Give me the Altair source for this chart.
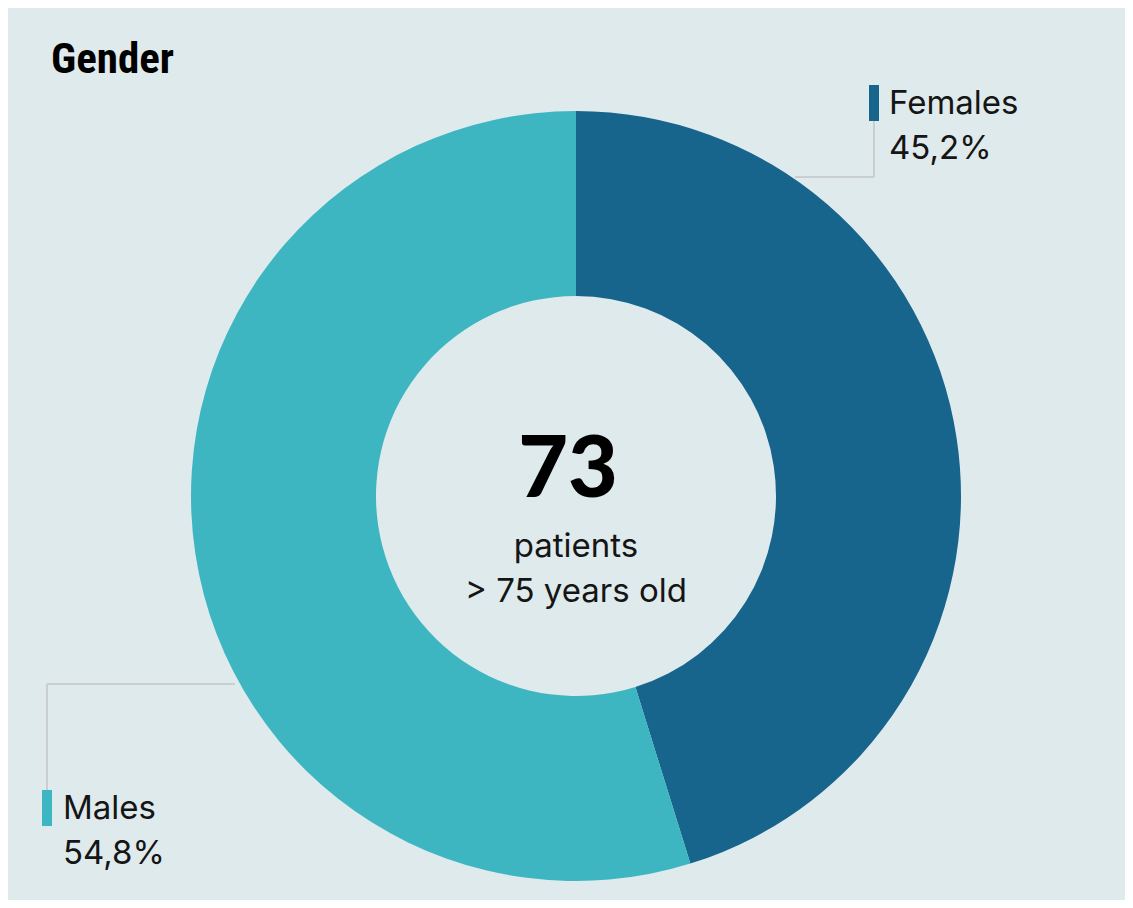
import altair as alt
import pandas as pd

# ---- data ----
categories = ["Females", "Males"]
shares = [45.2, 54.8]
colors = ["#17648d", "#3db6c2"]
total_patients = 73
center_lines = ["patients", "> 75 years old"]
title_text = "Gender"

# ---- layout (pixel positions inside the svg) ----
CX, CY = 568, 488
R_IN, R_OUT = 200, 385
W, H = 1117, 892
BG = "#dfeaec"
INK = "#151515"
LINE = "#c9cfd1"
FONT = "Inter"

pct_labels = [f"{v:.1f}".replace(".", ",") + "%" for v in shares]

arc_df = pd.DataFrame({"category": categories, "share": shares, "order": list(range(len(categories)))})

leader_layout = {
    "Females": [(787, 169, 866, 169), (866, 169, 866, 113)],
    "Males": [(227, 676, 39, 676), (39, 676, 39, 782)],
}
tick_layout = {"Females": (861, 871, 77, 113), "Males": (34, 44, 782, 818)}
label_layout = {"Females": (881, 106, 151), "Males": (55, 811, 856)}

seg_rows = []
for c in categories:
    for (x, y, x2, y2) in leader_layout[c]:
        seg_rows.append({"category": c, "x": x, "y": y, "x2": x2, "y2": y2})
seg_df = pd.DataFrame(seg_rows)

tick_df = pd.DataFrame([
    {"category": c, "x": tick_layout[c][0], "x2": tick_layout[c][1], "y": tick_layout[c][2], "y2": tick_layout[c][3]}
    for c in categories
])

lab_rows = []
for c, p in zip(categories, pct_labels):
    lx, y1, y2 = label_layout[c]
    lab_rows.append({"text": c, "x": lx, "y": y1})
    lab_rows.append({"text": p, "x": lx, "y": y2})
lab_df = pd.DataFrame(lab_rows)

color_scale = alt.Scale(domain=categories, range=colors)

arcs = alt.Chart(arc_df).mark_arc(innerRadius=R_IN, outerRadius=R_OUT).encode(
    theta=alt.Theta("share:Q", stack=True),
    color=alt.Color("category:N", scale=color_scale, legend=None),
    order=alt.Order("order:Q"),
    x=alt.value(CX),
    y=alt.value(CY),
)

leaders = alt.Chart(seg_df).mark_rule(color=LINE, strokeWidth=2).encode(
    x=alt.X("x:Q", scale=None), y=alt.Y("y:Q", scale=None),
    x2="x2:Q", y2="y2:Q",
)

ticks = alt.Chart(tick_df).mark_rect().encode(
    x=alt.X("x:Q", scale=None), x2="x2:Q",
    y=alt.Y("y:Q", scale=None), y2="y2:Q",
    color=alt.Color("category:N", scale=color_scale, legend=None),
)

labels = alt.Chart(lab_df).mark_text(
    align="left", baseline="alphabetic", font=FONT, fontSize=33, color=INK
).encode(
    x=alt.X("x:Q", scale=None), y=alt.Y("y:Q", scale=None), text="text:N"
)

big = alt.Chart(pd.DataFrame({"t": [str(total_patients)]})).mark_text(
    align="center", baseline="alphabetic", font="Lato", fontWeight=900, fontSize=86, color="#000000"
).encode(x=alt.value(560), y=alt.value(489), text="t:N")

sub = alt.Chart(pd.DataFrame({"t": center_lines, "y": [549, 594]})).mark_text(
    align="center", baseline="alphabetic", font=FONT, fontSize=33, color=INK
).encode(x=alt.value(CX), y=alt.Y("y:Q", scale=None), text="t:N")

title = alt.Chart(pd.DataFrame({"t": [title_text]})).mark_text(
    align="left", baseline="alphabetic",
    font="Roboto Condensed, Liberation Sans Narrow, Arial Narrow, DejaVu Sans Condensed, sans-serif",
    fontWeight="bold", fontSize=43, color="#000000"
).encode(x=alt.value(43), y=alt.value(65), text="t:N")

chart = alt.layer(leaders, arcs, ticks, labels, big, sub, title).properties(
    width=W, height=H,
    autosize=alt.AutoSizeParams(type="none"),
    padding=0,
    background=BG,
).configure_view(stroke=None)

chart.save("out.html", embed_options={"renderer": "svg", "actions": False})
